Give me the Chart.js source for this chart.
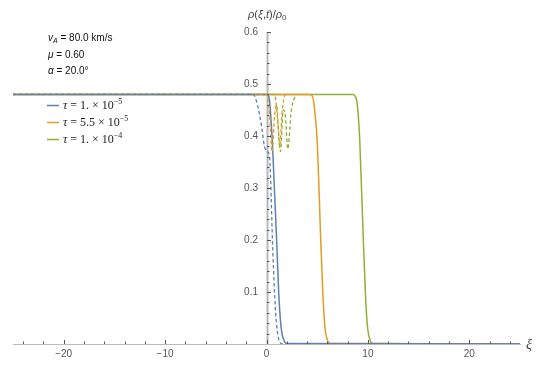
<!DOCTYPE html>
<html>
<head>
<meta charset="utf-8">
<script src="https://cdn.jsdelivr.net/npm/chart.js@4.4.1/dist/chart.umd.min.js"></script>
<style>
  html, body { margin: 0; padding: 0; background: #fff; }
  #wrap { width: 545px; height: 372px; }
</style>
</head>
<body>
<div id="wrap"><canvas id="rho" width="545" height="372"></canvas></div>
<script>
// axis ticks
const xTickVals = [-20, -10, 0, 10, 20];
const yTickVals = [0.1, 0.2, 0.3, 0.4, 0.5, 0.6];

// legend
const tauLabels = ['1. \u00d7 10', '5.5 \u00d7 10', '1. \u00d7 10'];
const tauExps = ['\u22125', '\u22125', '\u22124'];
const lineColors = ['#5e81b5', '#e19c24', '#8fb032'];

// solid profiles rho/rho0 vs xi
const blueXi  = [-25, 0, 0.25, 0.45, 0.62, 1.0, 1.2, 1.45, 1.7, 2.0, 25];
const blueRho = [0.48, 0.48, 0.475, 0.43, 0.37, 0.2, 0.1, 0.03, 0.008, 0.001, 0];
const orangeXi  = [-25, 4.3, 4.6, 4.8, 5.0, 5.35, 5.55, 5.75, 6.0, 6.3, 25];
const orangeRho = [0.48, 0.48, 0.472, 0.44, 0.39, 0.2, 0.1, 0.035, 0.008, 0.001, 0];
const greenXi  = [-25, 8.5, 8.85, 9.05, 9.2, 9.55, 9.75, 9.95, 10.2, 10.5, 25];
const greenRho = [0.48, 0.48, 0.472, 0.44, 0.39, 0.2, 0.1, 0.035, 0.008, 0.001, 0];

// dashed profiles
const blueDashXi  = [-25, -1.3, -0.9, -0.5, -0.2, 0.1, 0.3, 0.62, 0.9, 1.2, 1.6, 25];
const blueDashRho = [0.48, 0.48, 0.46, 0.42, 0.38, 0.37, 0.36, 0.18, 0.06, 0.01, 0, 0];
const orangeDashXi  = [-25, 0.0, 0.3, 0.55, 0.8, 1.0, 1.3, 1.55, 1.8];
const orangeDashRho = [0.48, 0.48, 0.44, 0.37, 0.44, 0.46, 0.38, 0.45, 0.48];
const greenDashXi  = [-25, 0.8, 1.1, 1.38, 1.65, 1.85, 2.1, 2.45, 2.9];
const greenDashRho = [0.48, 0.48, 0.43, 0.37, 0.45, 0.44, 0.375, 0.45, 0.48];

const pts = (xs, ys) => xs.map((v, i) => ({ x: v, y: ys[i] }));

function mkSet(xs, ys, color, dashed) {
  return {
    data: pts(xs, ys),
    borderColor: color,
    borderWidth: dashed ? 1.3 : 1.5,
    borderDash: dashed ? [3.5, 2.5] : [],
    pointRadius: 0,
    cubicInterpolationMode: 'monotone',
    fill: false
  };
}

const datasets = [
  mkSet(blueDashXi, blueDashRho, lineColors[0], true),
  mkSet(orangeDashXi, orangeDashRho, lineColors[1], true),
  mkSet(greenDashXi, greenDashRho, lineColors[2], true),
  mkSet(blueXi, blueRho, lineColors[0], false),
  mkSet(orangeXi, orangeRho, lineColors[1], false),
  mkSet(greenXi, greenRho, lineColors[2], false)
];

function drawParts(ctx, parts, x, y) {
  for (const [t, f, dy] of parts) {
    ctx.font = f;
    ctx.fillText(t, x, y + (dy || 0));
    x += ctx.measureText(t).width;
  }
  return x;
}

const decor = {
  id: 'decor',
  beforeDatasetsDraw(chart) {
    // vertical axis through xi = 0
    const { ctx, scales: { x, y } } = chart;
    const x0 = Math.round(x.getPixelForValue(0)) + 0.5;
    ctx.save();
    ctx.setLineDash([]);
    ctx.globalAlpha = 1;
    ctx.strokeStyle = '#b8b8b8';
    ctx.lineWidth = 2;
    ctx.beginPath();
    ctx.moveTo(x0, y.getPixelForValue(0));
    ctx.lineTo(x0, y.getPixelForValue(0.6));
    ctx.stroke();
    ctx.restore();
  },
  afterDraw(chart) {
    const { ctx, scales: { x, y } } = chart;
    const x0 = Math.round(x.getPixelForValue(0)), y0 = y.getPixelForValue(0);
    ctx.save();
    ctx.setLineDash([]);
    // tick marks
    ctx.strokeStyle = '#555';
    ctx.lineWidth = 1;
    ctx.beginPath();
    for (let v = -24; v <= 24; v += 2) {
      const px = Math.round(x.getPixelForValue(v)) + 0.5;
      const len = v % 10 === 0 ? 4 : 2.5;
      ctx.moveTo(px, y0);
      ctx.lineTo(px, y0 - len);
    }
    for (let k = 1; k <= 30; k++) {
      const py = Math.round(y.getPixelForValue(k * 0.02)) + 0.5;
      const len = k % 5 === 0 ? 4 : 2.5;
      ctx.moveTo(x0, py);
      ctx.lineTo(x0 + len, py);
    }
    ctx.stroke();

    // y tick labels, left of the axis at xi = 0
    ctx.fillStyle = '#555';
    ctx.font = '10px "Liberation Sans"';
    ctx.textAlign = 'right';
    ctx.textBaseline = 'middle';
    yTickVals.forEach(v => ctx.fillText(v.toFixed(1), x0 - 9, y.getPixelForValue(v)));

    // axis titles
    ctx.fillStyle = '#444';
    ctx.textBaseline = 'alphabetic';
    ctx.textAlign = 'left';
    drawParts(ctx, [
      ['\u03c1', 'italic 11px "Liberation Sans"'],
      ['(', '11px "Liberation Sans"'],
      ['\u03be', 'italic 11px "Liberation Sans"'],
      [',', '11px "Liberation Sans"'],
      ['t', 'italic 11px "Liberation Sans"'],
      [')/', '11px "Liberation Sans"'],
      ['\u03c1', 'italic 11px "Liberation Sans"'],
      ['0', '8px "Liberation Sans"', 2]
    ], 248, 18);
    ctx.font = 'italic 14px "Liberation Serif"';
    ctx.fillText('\u03be', 526, 349);

    // parameter block
    ctx.fillStyle = '#111';
    drawParts(ctx, [
      ['v', 'italic 10px "Liberation Sans"'],
      ['A', 'italic 7px "Liberation Sans"', 2],
      [' = 80.0 km/s', '10px "Liberation Sans"']
    ], 48, 41);
    drawParts(ctx, [
      ['\u03bc', 'italic 10px "Liberation Sans"'],
      [' = 0.60', '10px "Liberation Sans"']
    ], 48, 58);
    drawParts(ctx, [
      ['\u03b1', 'italic 10px "Liberation Sans"'],
      [' = 20.0\u00b0', '10px "Liberation Sans"']
    ], 48, 74);

    // legend
    const rowsY = [105, 122, 139];
    rowsY.forEach((ry, i) => {
      ctx.strokeStyle = lineColors[i];
      ctx.lineWidth = 1.5;
      ctx.beginPath();
      ctx.moveTo(47, ry + 0.5);
      ctx.lineTo(59, ry + 0.5);
      ctx.stroke();
      ctx.fillStyle = '#222';
      drawParts(ctx, [
        ['\u03c4', 'italic 12px "Liberation Serif"'],
        [' = ' + tauLabels[i], '12px "Liberation Serif"'],
        [tauExps[i], '8px "Liberation Serif"', -5]
      ], 63, ry + 4);
    });
    ctx.restore();
  }
};

new Chart(document.getElementById('rho').getContext('2d'), {
  type: 'line',
  data: { datasets },
  options: {
    responsive: false,
    animation: false,
    layout: { padding: { left: 13, right: 25, top: 32, bottom: 0 } },
    plugins: { legend: { display: false }, tooltip: { enabled: false } },
    scales: {
      x: {
        type: 'linear',
        min: -25,
        max: 25,
        afterFit: s => { s.height = 28; },
        afterBuildTicks: s => { s.ticks = xTickVals.map(v => ({ value: v })); },
        grid: { display: false, drawTicks: false },
        border: { display: true, color: '#bbb', width: 1 },
        ticks: {
          color: '#555',
          padding: 4,
          font: { family: 'Liberation Sans', size: 10 },
          callback: v => v < 0 ? '\u2212' + Math.abs(v) : String(v)
        }
      },
      y: {
        type: 'linear',
        min: 0,
        max: 0.6,
        display: false
      }
    }
  },
  plugins: [decor]
});
</script>
</body>
</html>
